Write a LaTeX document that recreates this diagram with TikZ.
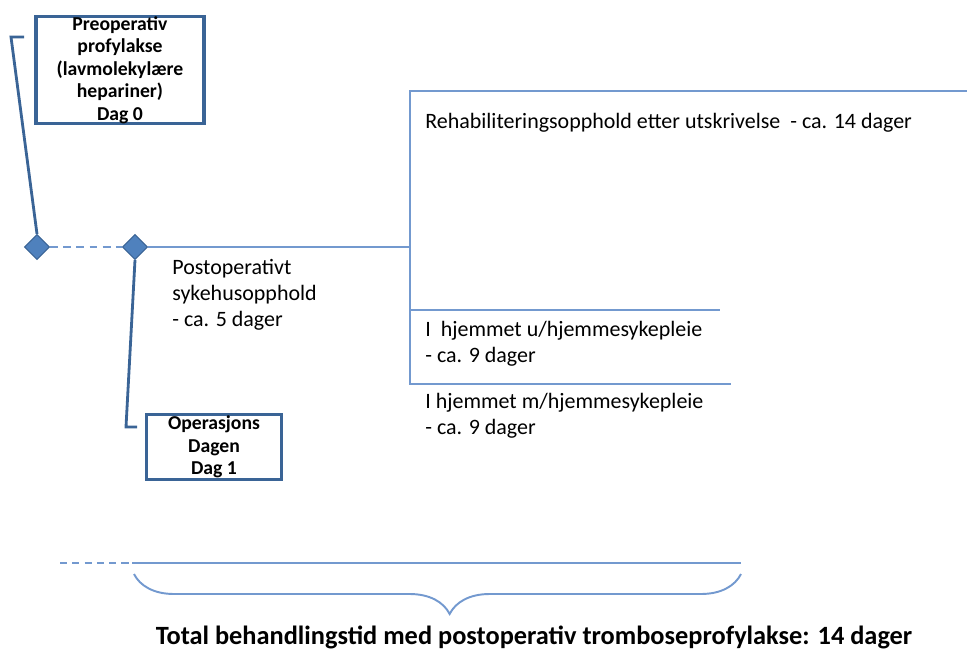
\documentclass[tikz,border=0pt]{standalone}
\usepackage{fontspec}
\setmainfont{Carlito}
\usepackage{tikz}
\usetikzlibrary{shapes.geometric, positioning, decorations.pathreplacing}

\definecolor{boxblue}{HTML}{3A6496}
\definecolor{dotblue}{HTML}{4F81BD}
\definecolor{lineblue}{HTML}{7399CF}

\tikzset{
  phasebox/.style={draw=boxblue, line width=1.8pt, fill=white, align=center, inner sep=0pt,
    font=\fontsize{11.2}{12.8}\selectfont\bfseries},
  milestone/.style={diamond, draw=boxblue, fill=dotblue, minimum size=0.5cm, inner sep=0pt, line width=0.6pt},
  link/.style={boxblue, line width=1.6pt},
  bracket/.style={lineblue, line width=1.1pt},
  phasetext/.style={anchor=north west, align=left, inner sep=0pt, font=\fontsize{12.5}{14.8}\selectfont}
}

\begin{document}
\begin{tikzpicture}[x=0.02cm, y=-0.02cm]
    \useasboundingbox (0,0) rectangle (967,650);

    % boxes and milestones
    \node[phasebox, minimum width=3.36cm, minimum height=2.14cm] (preop) at (120,70)
        {Preoperativ\\profylakse\\(lavmolekylære\\hepariner)\\Dag 0};
    \node[phasebox, minimum width=2.7cm, minimum height=1.3cm] (opday) at (214,447)
        {Operasjons\\Dagen\\Dag 1};
    \node[milestone] (start) at (37,247) {};
    \node[milestone] (surgery) at (135,247) {};

    \coordinate (pretick) at (24,37);
    \coordinate (optick) at (137,427);
    \coordinate (split) at (410,247);

    \draw[link] (start.north) -- (11,37) -- (pretick);
    \draw[link] (surgery.south) -- (126,427) -- (optick);
    \draw[bracket, dash pattern=on 4.5pt off 3pt] (start.east) -- (surgery.west);
    \draw[bracket] (surgery.east) -- (split);

    % after discharge
    \draw[bracket] (967,91) -- (410,91) -- (410,384) -- (731,384);
    \draw[bracket] (410,310) -- (720,310);

    \node[phasetext] (hospital) at (172,259) {Postoperativt\\sykehusopphold\\- ca. 5 dager};
    \node[phasetext] (rehab) at (425,113) {Rehabiliteringsopphold etter utskrivelse \ - ca. 14 dager};
    \node[phasetext] (homeu) at (425,321) {I \ hjemmet u/hjemmesykepleie\\- ca. 9 dager};
    \node[phasetext] (homem) at (425,393) {I hjemmet m/hjemmesykepleie\\- ca. 9 dager};

    % total
    \coordinate (tstart) at (60,563);
    \coordinate (tmid) at (132,563);
    \coordinate (tend) at (741,563);
    \draw[bracket, dash pattern=on 4pt off 3pt] (tstart) -- (tmid);
    \draw[bracket] (tmid) -- (tend);
    \draw[bracket, decorate, decoration={brace, mirror, amplitude=0.8cm, aspect=0.52}]
        (134,574) -- (741,574);
    \node[font=\fontsize{15}{18}\selectfont\bfseries] (total) at (534,637)
        {Total behandlingstid med postoperativ tromboseprofylakse: 14 dager};
\end{tikzpicture}
\end{document}
